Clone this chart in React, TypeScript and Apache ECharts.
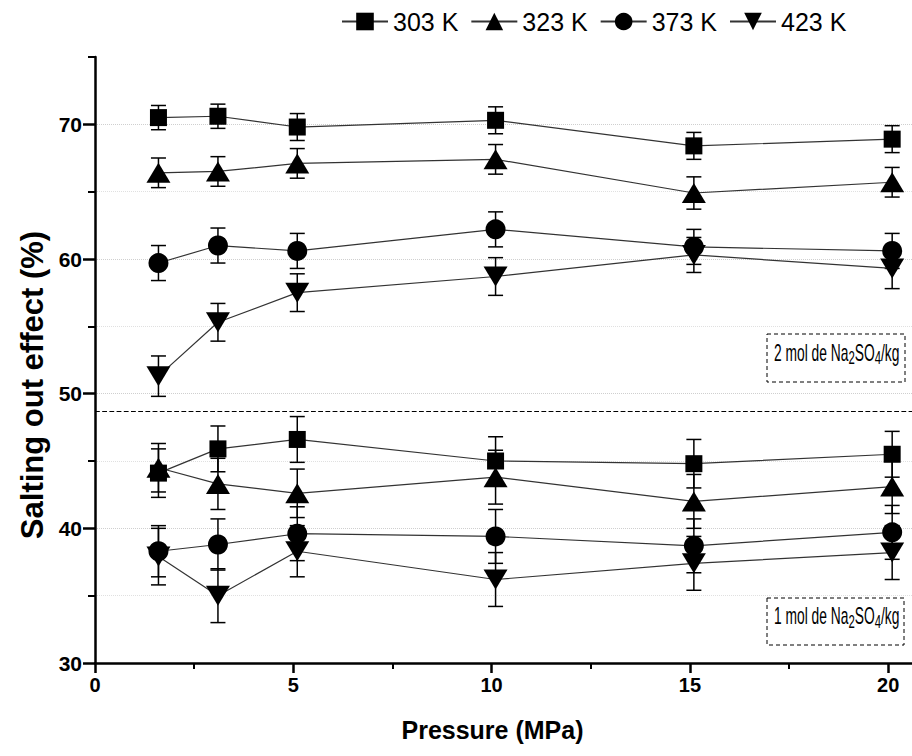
import React, { useEffect, useRef } from "react";
import * as echarts from "echarts";

const pressures = [1.6, 3.1, 5.1, 10.1, 15.1, 20.1];
const temps = ["303 K", "323 K", "373 K", "423 K"];

// 2 mol Na2SO4/kg
const t303_2 = [70.5, 70.6, 69.8, 70.3, 68.4, 68.9];
const e303_2 = [0.9, 0.9, 1.0, 1.0, 1.0, 1.0];
const t323_2 = [66.4, 66.5, 67.1, 67.4, 64.9, 65.7];
const e323_2 = [1.1, 1.1, 1.1, 1.1, 1.2, 1.1];
const t373_2 = [59.7, 61.0, 60.6, 62.2, 60.9, 60.6];
const e373_2 = [1.3, 1.3, 1.3, 1.3, 1.3, 1.3];
const t423_2 = [51.3, 55.3, 57.5, 58.7, 60.3, 59.3];
const e423_2 = [1.5, 1.4, 1.4, 1.4, 1.3, 1.5];

// 1 mol Na2SO4/kg
const t303_1 = [44.1, 45.9, 46.6, 45.0, 44.8, 45.5];
const e303_1 = [1.8, 1.7, 1.7, 1.8, 1.8, 1.7];
const t323_1 = [44.5, 43.3, 42.6, 43.8, 42.0, 43.1];
const e323_1 = [1.8, 1.9, 1.8, 2.0, 2.0, 2.0];
const t373_1 = [38.3, 38.8, 39.6, 39.4, 38.7, 39.7];
const e373_1 = [1.9, 1.9, 2.0, 2.0, 2.0, 2.0];
const t423_1 = [37.9, 35.0, 38.3, 36.2, 37.4, 38.2];
const e423_1 = [2.1, 2.0, 1.9, 2.0, 2.0, 2.0];

const separatorValue = 48.7;
const xMajor = [0, 5, 10, 15, 20];
const xMinor = [2.5, 7.5, 12.5, 17.5];
const yMajor = [30, 40, 50, 60, 70];
const yMinorTicks = [35, 45, 55, 65, 75];
const yMinorGrid = [35, 45, 55, 65];

const symbols: Record<string, any> = {
  "303 K": { symbol: "rect", size: 17 },
  "323 K": { symbol: "triangle", size: [24, 20] },
  "373 K": { symbol: "circle", size: 20 },
  "423 K": { symbol: "path://M0,0L24,0L12,20Z", size: [24, 20] },
};

const groups = [
  { name: "303 K", vals: t303_2, errs: e303_2 },
  { name: "323 K", vals: t323_2, errs: e323_2 },
  { name: "373 K", vals: t373_2, errs: e373_2 },
  { name: "423 K", vals: t423_2, errs: e423_2 },
  { name: "303 K", vals: t303_1, errs: e303_1 },
  { name: "323 K", vals: t323_1, errs: e323_1 },
  { name: "373 K", vals: t373_1, errs: e373_1 },
  { name: "423 K", vals: t423_1, errs: e423_1 },
];

const FONT = "'Liberation Sans', Arial, sans-serif";
const NARROW = "'Liberation Sans Narrow', 'Arial Narrow', 'Liberation Sans', Arial, sans-serif";

function errRender(params: any, api: any) {
  const x = api.value(0);
  const lo = api.value(1);
  const hi = api.value(2);
  const p1 = api.coord([x, hi]);
  const p2 = api.coord([x, lo]);
  const w = 7.5;
  const style = { stroke: "#000", lineWidth: 1.5 };
  return {
    type: "group",
    children: [
      { type: "line", shape: { x1: p1[0], y1: p1[1], x2: p2[0], y2: p2[1] }, style },
      { type: "line", shape: { x1: p1[0] - w, y1: p1[1], x2: p1[0] + w, y2: p1[1] }, style },
      { type: "line", shape: { x1: p2[0] - w, y1: p2[1], x2: p2[0] + w, y2: p2[1] }, style },
    ],
  };
}

function annotation(label: string, x: number, y: number, w: number, h: number) {
  return {
    type: "group",
    x,
    y,
    z: 10,
    children: [
      {
        type: "rect",
        shape: { x: 0, y: 0, width: w, height: h },
        style: { fill: "#fff", stroke: "#000", lineWidth: 1, lineDash: [4, 3] },
      },
      {
        type: "text",
        x: 7,
        y: h / 2 - 5,
        scaleX: 0.6,
        style: {
          text: `{a|${label} mol de Na}{s|2}{a|SO}{s|4}{a|/kg}`,
          verticalAlign: "middle",
          align: "left",
          rich: {
            a: { fontSize: 23, fontFamily: FONT, fill: "#000", lineHeight: 28 },
            s: { fontSize: 19, fontFamily: FONT, fill: "#000", lineHeight: 4, verticalAlign: "bottom" },
          },
        },
      },
    ],
  };
}

export default function App() {
  const ref = useRef<HTMLDivElement>(null);
  useEffect(() => {
    if (!ref.current) return;
    const chart = echarts.init(ref.current, undefined, { renderer: "svg" });
    const series: any[] = [];
    groups.forEach((g, i) => {
      series.push({
        type: "custom",
        name: "err" + i,
        renderItem: errRender,
        data: pressures.map((p, k) => [p, g.vals[k] - g.errs[k], g.vals[k] + g.errs[k]]),
        encode: { x: 0, y: [1, 2] },
        z: 2,
        silent: true,
      });
    });
    groups.forEach((g, i) => {
      const s: any = {
        type: "line",
        name: g.name,
        data: pressures.map((p, k) => [p, g.vals[k]]),
        symbol: symbols[g.name].symbol,
        symbolSize: symbols[g.name].size,
        itemStyle: { color: "#000" },
        lineStyle: { color: "#333", width: 1.2 },
        z: 3,
      };
      if (i === 0) {
        s.markLine = {
          silent: true,
          symbol: ["none", "none"],
          label: { show: false },
          lineStyle: { type: "dashed", color: "#000", width: 1.2 },
          data: [{ yAxis: separatorValue }],
        };
      }
      series.push(s);
    });

    chart.setOption({
      animation: false,
      backgroundColor: "#fff",
      legend: {
        data: temps,
        left: 336,
        top: 4,
        itemWidth: 46,
        itemHeight: 22,
        itemGap: 12,
        textStyle: { fontSize: 25, fontFamily: FONT, color: "#000" },
      },
      grid: { left: 95, right: 0, top: 57, bottom: 93, containLabel: false },
      xAxis: [
        {
          type: "value",
          min: 0,
          max: 20.6,
          interval: 5,
          z: 5,
          axisLine: { show: true, lineStyle: { color: "#000", width: 2.5 } },
          axisTick: { show: true, customValues: xMajor, length: 10, lineStyle: { color: "#000", width: 2.5 } },
          axisLabel: {
            customValues: xMajor,
            margin: 12,
            fontSize: 20,
            fontWeight: "bold",
            fontFamily: NARROW,
            color: "#000",
          },
          splitLine: { show: false },
          name: "Pressure (MPa)",
          nameLocation: "middle",
          nameGap: 54,
          nameTextStyle: {
            fontSize: 25,
            fontWeight: "bold",
            fontFamily: NARROW,
            color: "#000",
            padding: [0, 22, 0, 0],
          },
        },
        {
          type: "value",
          min: 0,
          max: 20.6,
          interval: 2.5,
          position: "bottom",
          z: 5,
          axisLine: { show: false },
          axisTick: { show: true, customValues: xMinor, length: 6, lineStyle: { color: "#000", width: 2 } },
          axisLabel: { show: false },
          splitLine: { show: false },
        },
      ],
      yAxis: [
        {
          type: "value",
          min: 30,
          max: 75,
          interval: 10,
          axisLine: { show: true, lineStyle: { color: "#000", width: 2.5 } },
          axisTick: { show: true, customValues: yMajor, length: 12, lineStyle: { color: "#000", width: 2.5 } },
          axisLabel: {
            customValues: yMajor,
            margin: 13,
            fontSize: 21,
            fontWeight: "bold",
            fontFamily: FONT,
            color: "#000",
          },
          splitLine: {
            show: true,
            showMinLine: false,
            lineStyle: { color: "#cfcfcf", type: "dotted", width: 1 },
          },
          name: "Salting out effect (%)",
          nameLocation: "middle",
          nameGap: 46,
          nameTextStyle: {
            fontSize: 31,
            fontWeight: "bold",
            fontFamily: FONT,
            color: "#000",
            padding: [0, 50, 0, 0],
          },
        },
        {
          type: "value",
          min: 30,
          max: 75,
          interval: 5,
          position: "left",
          axisLine: { show: false },
          axisTick: { show: true, customValues: yMinorTicks, length: 7, lineStyle: { color: "#000", width: 2 } },
          axisLabel: { show: false },
          splitLine: { show: false },
        },
        {
          type: "value",
          min: 30,
          max: 75,
          interval: 5,
          position: "left",
          axisLine: { show: false },
          axisTick: { show: false, customValues: yMinorGrid },
          axisLabel: { show: false },
          splitLine: { show: true, lineStyle: { color: "#e0e0e0", type: "dotted", width: 1 } },
        },
      ],
      graphic: [annotation("2", 767, 334, 138, 48), annotation("1", 767, 598, 137, 47)],
      series,
    });
    return () => chart.dispose();
  }, []);
  return (
    <div
      ref={ref}
      style={{ position: "absolute", left: 0, top: 0, width: 912, height: 756, background: "#fff" }}
    />
  );
}
